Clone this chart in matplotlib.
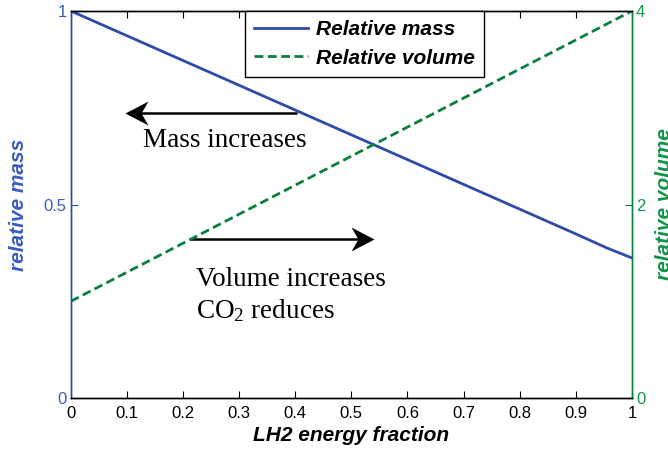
import matplotlib
matplotlib.use("Agg")
import matplotlib.pyplot as plt
from matplotlib.path import Path

# data
frac = [0.0, 0.1, 0.2, 0.3, 0.4, 0.5, 0.6, 0.7, 0.8, 0.9, 0.955, 1.0]
rel_mass = [1.0, 0.936, 0.872, 0.808, 0.744, 0.680, 0.616, 0.552, 0.488, 0.424, 0.388, 0.362]
rel_volume = [1.0, 1.3, 1.6, 1.9, 2.2, 2.5, 2.8, 3.1, 3.4, 3.7, 3.865, 4.0]

x_ticks = [0, 0.1, 0.2, 0.3, 0.4, 0.5, 0.6, 0.7, 0.8, 0.9, 1]
x_ticklabels = ["0", "0.1", "0.2", "0.3", "0.4", "0.5", "0.6", "0.7", "0.8", "0.9", "1"]
mass_ticks = [0, 0.5, 1]
mass_ticklabels = ["0", "0.5", "1"]
vol_ticks = [0, 2, 4]
vol_ticklabels = ["0", "2", "4"]

# annotation arrows: (tail x, tip x, y) in data units of the mass axis
mass_arrow = (0.403, 0.096, 0.736)
vol_arrow = (0.212, 0.541, 0.41)

BLUE = "#2c4ca8"
BLUE_TXT = "#3a5cbf"
GREEN = "#0b7f3f"
GREEN_TXT = "#119447"
SANS = "Liberation Sans"
SERIF = "Liberation Serif"

plt.rcParams["font.family"] = SANS
plt.rcParams["mathtext.fontset"] = "custom"
plt.rcParams["mathtext.rm"] = SERIF
plt.rcParams["mathtext.it"] = SERIF + ":italic"

fig, ax = plt.subplots(figsize=(6.68, 4.57), dpi=100)
fig.subplots_adjust(left=0.106, right=0.946, bottom=0.129, top=0.976)
ax2 = ax.twinx()

h1, = ax.plot(frac, rel_mass, color=BLUE, lw=2.0, label="Relative mass")
h2, = ax2.plot(frac, rel_volume, color=GREEN, lw=2.0, ls=(0, (3.2, 1.6)),
               label="Relative volume")

ax.set_xlim(0, 1)
ax.set_ylim(0, 1)
ax2.set_ylim(0, 4)
ax.set_xticks(x_ticks)
ax.set_xticklabels(x_ticklabels, fontsize=12)
ax.set_yticks(mass_ticks)
ax.set_yticklabels(mass_ticklabels, fontsize=12, color=BLUE_TXT)
ax2.set_yticks(vol_ticks)
ax2.set_yticklabels(vol_ticklabels, fontsize=12, color=GREEN_TXT)

ax.tick_params(axis="x", direction="in", top=True, length=5, width=0.8, pad=6)
ax.tick_params(axis="y", direction="in", length=5, width=0.8, colors=BLUE, labelcolor=BLUE_TXT, pad=3)
ax2.tick_params(axis="y", direction="in", length=5, width=0.8, colors=GREEN, labelcolor=GREEN_TXT, pad=3)

for a in (ax, ax2):
    a.spines["left"].set_color(BLUE)
    a.spines["right"].set_color(GREEN)
    a.spines["top"].set_color("black")
    a.spines["bottom"].set_color("black")
    for s in a.spines.values():
        s.set_linewidth(1.0)

lab = dict(fontsize=15, fontweight="bold", style="italic")
ax.set_xlabel("LH2 energy fraction", labelpad=3, **lab)
ax.set_ylabel("relative mass", color=BLUE_TXT, **lab)
ax2.set_ylabel("relative volume", color=GREEN_TXT, rotation=90, **lab)
ax.yaxis.set_label_coords(-0.077, 0.5)
ax2.yaxis.set_label_coords(1.041, 0.5)

leg = ax2.legend(handles=[h1, h2], loc="upper left", bbox_to_anchor=(0.31, 1.0),
                 prop={"family": SANS, "size": 15, "weight": "bold", "style": "italic"},
                 fancybox=False, edgecolor="black", framealpha=1, handlelength=2.6,
                 handletextpad=0.35, borderpad=0.45, labelspacing=0.45, borderaxespad=0)
leg.get_frame().set_linewidth(1.0)

# concave (matlab-like) arrow heads as custom markers, tip at the origin
head_r = Path([(0, 0), (-1, 0.52), (-0.7, 0), (-1, -0.52), (0, 0)],
              [Path.MOVETO, Path.LINETO, Path.LINETO, Path.LINETO, Path.CLOSEPOLY])
head_l = Path([(0, 0), (1, 0.52), (0.7, 0), (1, -0.52), (0, 0)],
              [Path.MOVETO, Path.LINETO, Path.LINETO, Path.LINETO, Path.CLOSEPOLY])

for (x0, x1, y), head in ((mass_arrow, head_l), (vol_arrow, head_r)):
    ax.plot([x0, x1 - 0.02 * (1 if x1 > x0 else -1)], [y, y], color="black", lw=1.8,
            solid_capstyle="butt")
    ax.plot([x1], [y], marker=head, markersize=33, color="black", mew=0, ls="none")

ax.text(0.275, 0.665, "Mass increases", family=SERIF, fontsize=19.5, ha="center", va="center")
ax.text(0.224, 0.305, "Volume increases", family=SERIF, fontsize=19.5, ha="left", va="center")
ax.text(0.224, 0.225, "CO$_2$ reduces", family=SERIF, fontsize=19.5, ha="left", va="center")

fig.savefig("out.png", dpi=100)
